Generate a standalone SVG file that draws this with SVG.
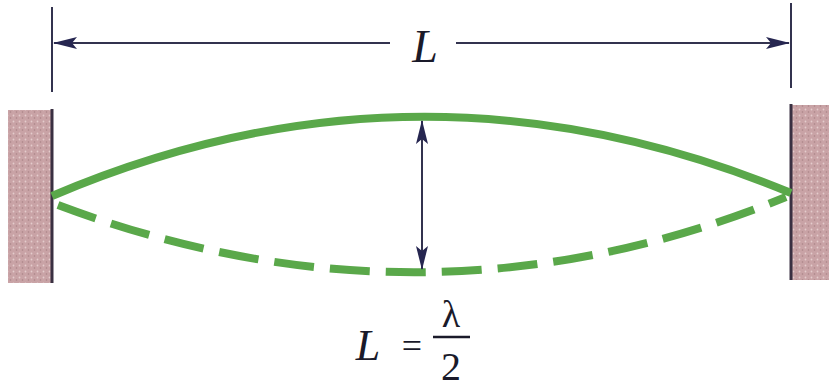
<svg xmlns="http://www.w3.org/2000/svg" width="829" height="389" viewBox="0 0 829 389">
<defs>
<marker id="ah" viewBox="0 0 24 12" refX="23" refY="6" markerWidth="24" markerHeight="12" markerUnits="userSpaceOnUse" orient="auto-start-reverse">
<path d="M0,0 L24,6 L0,12 L5,6 Z" fill="#262650"/>
</marker>
<pattern id="speck" width="6" height="6" patternUnits="userSpaceOnUse">
<rect width="6" height="6" fill="#c9a3a6"/>
<circle cx="1.5" cy="1.5" r="0.9" fill="#e4cccc"/>
<circle cx="4.5" cy="4" r="0.8" fill="#a98386"/>
</pattern>
</defs>
<style>
.dim{stroke:#33334f;stroke-width:2;fill:none}
.edge{stroke:#3a3042;stroke-width:3}
.wave{stroke:#5aa84a;stroke-width:8;fill:none}
.math{font-family:"Liberation Serif",serif;fill:#1a1a2a}
</style>
<g id="wall-left">
<rect x="8" y="110" width="44" height="173" fill="url(#speck)"/>
<line class="edge" x1="52" y1="109" x2="52" y2="283"/>
</g>
<g id="wall-right">
<rect x="791" y="105" width="38" height="175" fill="url(#speck)"/>
<line class="edge" x1="791" y1="104" x2="791" y2="280"/>
</g>
<g id="string">
<path class="wave" d="M52,196 C298,91 545,91 791,193"/>
<path class="wave" d="M58,205 C300,296 543,296 786,197" stroke-dasharray="40,16"/>
</g>
<g id="connectors">
<line class="dim" x1="52" y1="7" x2="52" y2="92" stroke-width="3"/>
<line class="dim" x1="791" y1="3" x2="791" y2="88" stroke-width="3"/>
<line class="dim" x1="390" y1="43" x2="54" y2="43" marker-end="url(#ah)"/>
<line class="dim" x1="456" y1="43" x2="789" y2="43" marker-end="url(#ah)"/>
<line class="dim" x1="422" y1="195" x2="422" y2="121" marker-end="url(#ah)"/>
<line class="dim" x1="422" y1="195" x2="422" y2="269" marker-end="url(#ah)"/>
</g>
<g id="label-L">
<text class="math" x="425" y="62" font-size="46" font-style="italic" text-anchor="middle">L</text>
</g>
<g id="formula">
<text class="math" x="368" y="360" font-size="44" font-style="italic" text-anchor="middle">L</text>
<text class="math" x="412" y="358" font-size="36" text-anchor="middle">=</text>
<text class="math" x="451" y="327" font-size="38" text-anchor="middle">λ</text>
<line x1="433" y1="337" x2="470" y2="337" stroke="#1a1a2a" stroke-width="2.5"/>
<text class="math" x="451" y="380" font-size="40" text-anchor="middle">2</text>
</g>
</svg>
